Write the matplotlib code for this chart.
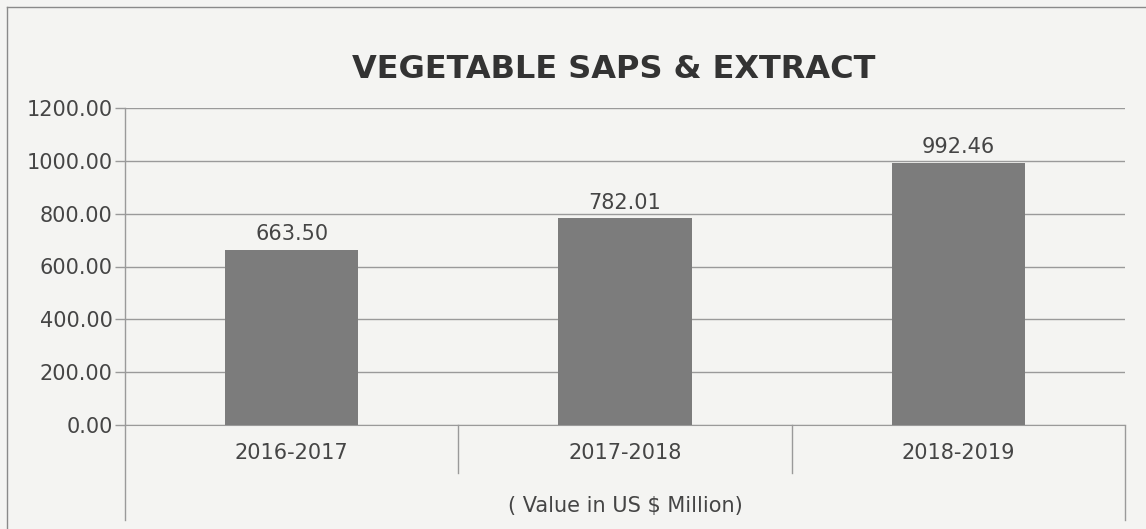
import matplotlib
matplotlib.use('agg')
import matplotlib.pyplot as plt
from matplotlib.lines import Line2D

## Data
years = ["2016-2017", "2017-2018", "2018-2019"]
values = [663.50, 782.01, 992.46]
yticks = [0, 200, 400, 600, 800, 1000, 1200]

bg = '#f4f4f2'
bar_col = '#7c7c7c'
txt_col = '#454545'
line_col = '#9a9a9a'

plt.rcParams['font.family'] = 'DejaVu Sans'

fig = plt.figure(figsize=(11.46, 5.29), dpi=100, facecolor=bg)
ax = fig.add_axes([125/1146, 1-425/529, 1000/1146, 317/529], facecolor=bg)

x = range(len(years))
ax.bar(x, values, width=0.4, color=bar_col, zorder=3)
for i, v in enumerate(values):
    ax.annotate('%.2f' % v, (i, v), xytext=(0, 4), textcoords='offset points',
                ha='center', va='bottom', fontsize=15, color=txt_col)

ax.set_xlim(-0.5, len(years) - 0.5)
ax.set_ylim(0, 1200)
ax.set_yticks(yticks)
ax.set_yticklabels(['%.2f' % t for t in yticks], fontsize=15, color=txt_col)
ax.set_xticks(list(x))
ax.set_xticklabels(years, fontsize=15, color=txt_col)
ax.tick_params(axis='x', length=0, pad=13)
ax.tick_params(axis='y', length=7, width=1, color=line_col, pad=2)
ax.grid(axis='y', color=line_col, linewidth=1, zorder=0)
for s in ['top', 'right']:
    ax.spines[s].set_visible(False)
ax.spines['bottom'].set_color(line_col)
ax.spines['left'].set_visible(False)

# axis line and category dividers running below the plot
tr = ax.get_xaxis_transform()
ax.plot([-0.5, -0.5], [1, -0.30], transform=tr, color=line_col, lw=1, clip_on=False)
for d in [0.5, 1.5]:
    ax.plot([d, d], [0, -0.151], transform=tr, color=line_col, lw=1, clip_on=False)
ax.plot([2.5, 2.5], [0, -0.30], transform=tr, color=line_col, lw=1, clip_on=False)

ax.text(1, -0.255, '( Value in US $ Million)', transform=tr, ha='center', va='center',
        fontsize=15, color=txt_col)

fig.text(614/1146, 1-69/529, 'VEGETABLE SAPS & EXTRACT', ha='center', va='center',
         fontsize=23, fontweight='bold', color='#333333')

# outer frame (cut off at right and bottom)
fig.add_artist(Line2D([7/1146, 7/1146], [0, 1-7/529], transform=fig.transFigure,
                      color='#8a8a8a', lw=1))
fig.add_artist(Line2D([7/1146, 1], [1-7/529, 1-7/529], transform=fig.transFigure,
                      color='#8a8a8a', lw=1))

plt.savefig('out.png', dpi=100, facecolor=bg)
